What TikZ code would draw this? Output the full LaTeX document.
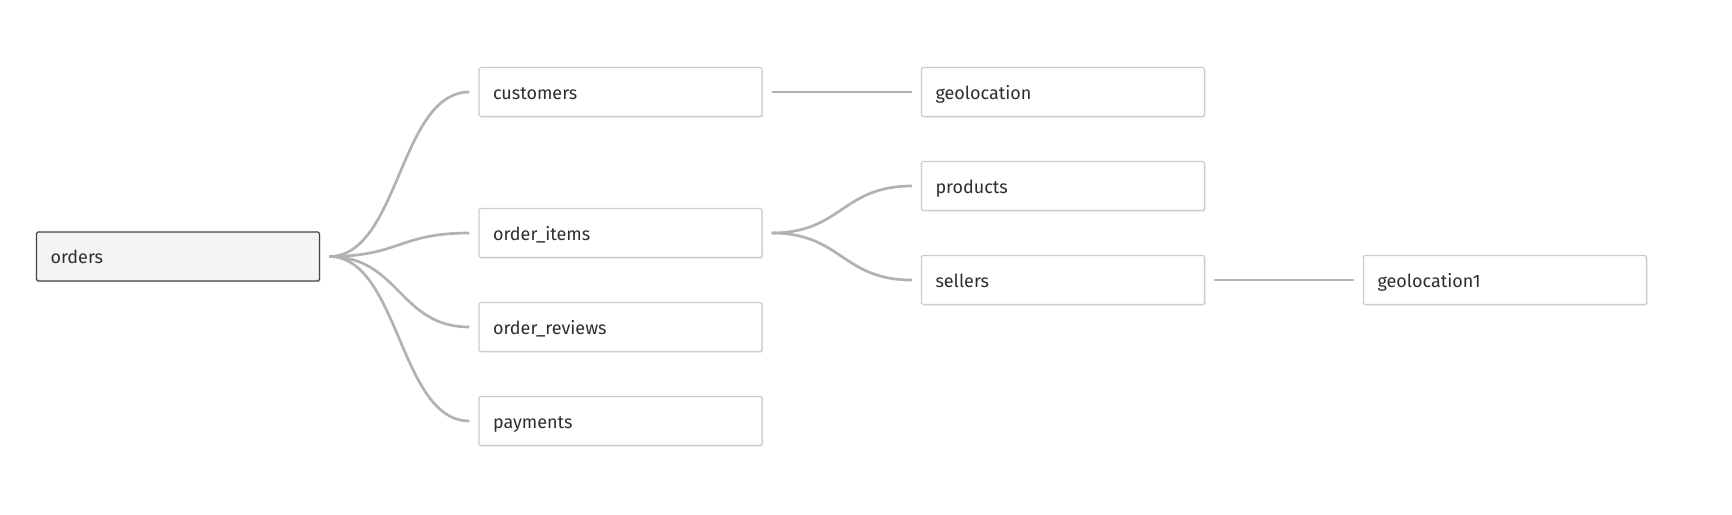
\documentclass[tikz,border=0pt]{standalone}
\usepackage{fontspec}
\setmainfont{Fira Sans}
\usetikzlibrary{shadows,calc}
\definecolor{txt}{HTML}{2E2E2E}
\definecolor{lnk}{HTML}{B2B2B2}
\definecolor{bord}{HTML}{CCCCCC}
\definecolor{rootfill}{HTML}{F4F4F4}
\definecolor{rootbord}{HTML}{454545}
\tikzset{
  tbl/.style={draw=bord, line width=1.2pt, fill=white, rounded corners=1.5pt,
    minimum width=283pt, minimum height=49pt, text width=255pt, inner xsep=14pt,
    text height=16pt, text depth=2pt,
    align=left, font=\fontsize{18}{21}\selectfont, text=txt,
    drop shadow={opacity=0.18, shadow xshift=1pt, shadow yshift=-1.2pt}},
  roottbl/.style={tbl, draw=rootbord, fill=rootfill},
  link/.style={draw=lnk, line width=2.7pt},
}
\begin{document}
\begin{tikzpicture}[x=1pt,y=-1pt]
\useasboundingbox (0,0) rectangle (1732,514);
\node[roottbl] (orders) at (178,256.5) {orders};
\node[tbl] (customers) at (620.5,92) {customers};
\node[tbl] (items) at (620.5,233) {order\_items};
\node[tbl] (reviews) at (620.5,327) {order\_reviews};
\node[tbl] (payments) at (620.5,421) {payments};
\node[tbl] (geo) at (1063,92) {geolocation};
\node[tbl] (products) at (1063,186) {products};
\node[tbl] (sellers) at (1063,280) {sellers};
\node[tbl] (geo1) at (1505,280) {geolocation1};
% connector ends
\coordinate (oOut) at ($(orders.east)+(9,0)$);
\coordinate (iOut) at ($(items.east)+(9,0)$);
\coordinate (cOut) at ($(customers.east)+(9,0)$);
\coordinate (sOut) at ($(sellers.east)+(9,0)$);
\coordinate (cIn) at ($(customers.west)+(-9,0)$);
\coordinate (iIn) at ($(items.west)+(-9,0)$);
\coordinate (rIn) at ($(reviews.west)+(-9,0)$);
\coordinate (pIn) at ($(payments.west)+(-9,0)$);
\coordinate (gIn) at ($(geo.west)+(-9,0)$);
\coordinate (prIn) at ($(products.west)+(-9,0)$);
\coordinate (sIn) at ($(sellers.west)+(-9,0)$);
\coordinate (g1In) at ($(geo1.west)+(-9,0)$);
\foreach \a/\b in {oOut/cIn, oOut/iIn, oOut/rIn, oOut/pIn, iOut/prIn, iOut/sIn}{
  \draw[link] (\a) .. controls ($(\a)!0.5!(\b|-\a)$) and ($(\b)!0.5!(\a|-\b)$) .. (\b);
}
\draw[link] (cOut) -- (gIn);
\draw[link] (sOut) -- (g1In);
\end{tikzpicture}
\end{document}
